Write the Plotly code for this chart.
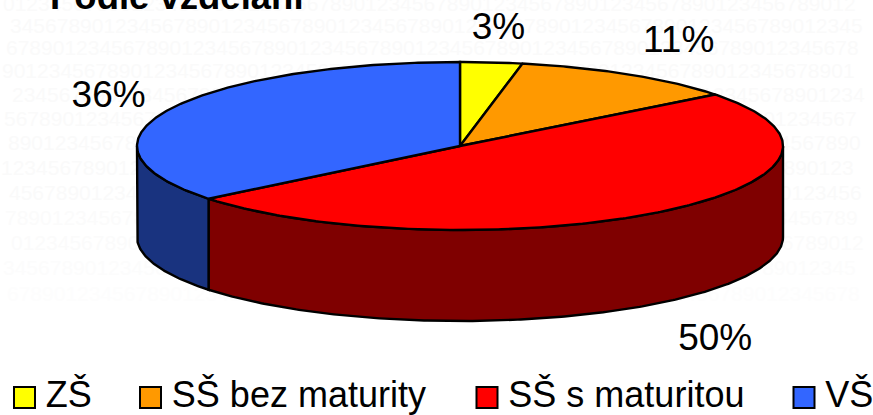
import math
import plotly.graph_objects as go

# ---- data ----
categories = ["ZŠ", "SŠ bez maturity", "SŠ s maturitou", "VŠ"]
values = [3.1, 11.4, 49.7, 35.8]
top_colors = ["#ffff00", "#ff9900", "#ff0000", "#3366ff"]
side_colors = ["#7f7f00", "#7f4c00", "#7f0000", "#19337f"]
title_text = "Podle vzdělání"

# ---- style / layout ----
W, H = 873, 415
CX, CY, RX, RY, DEPTH = 460, 146, 323, 84, 91
FONT = "Liberation Sans, Arial, sans-serif"
label_rx, label_ry = 405, 122
label_nudge = [(-1, 5), (6, 1), (4, 8), (14, 4)]
legend_x = [24.5, 150.5, 487, 804]
legend_y = 397.5
watermark_digits = "0123456789" * 12
watermark_start = [3, 10, 6, 2, 12, 4, 8, 1, 9, 5, 11, 3, 7]
watermark_y = [6, 28, 50, 73, 97, 121, 145, 170, 195, 220, 245, 270, 296]
watermark_col = ["#fafafa"] * 9 + ["#fbfbfb", "#fbfbfb", "#fcfcfc", "#fdfdfd"]


def pt(t, dy=0):
    return CX + RX * math.sin(t), CY - RY * math.cos(t) + dy


def arc(t0, t1, dy=0):
    n = max(2, int(abs(t1 - t0) / 0.01))
    return [pt(t0 + (t1 - t0) * i / n, dy) for i in range(n + 1)]


total = sum(values)
edges = [0]
for v in values:
    edges.append(edges[-1] + v / total * 2 * math.pi)

fig = go.Figure()

# faint background digits
fig.add_trace(go.Scatter(
    x=watermark_start, y=watermark_y,
    text=[watermark_digits[i * 3 % 10:][:73] for i in range(len(watermark_y))],
    mode="text", textposition="middle right",
    textfont=dict(family=FONT, size=21, color=watermark_col),
    hoverinfo="skip", showlegend=False))

# visible side walls, front half of the disc only
for i, name in enumerate(categories):
    a = max(edges[i], math.pi / 2)
    b = min(edges[i + 1], 3 * math.pi / 2)
    if b <= a:
        continue
    outline = arc(a, b) + arc(b, a, DEPTH)
    outline.append(outline[0])
    fig.add_trace(go.Scatter(
        x=[p[0] for p in outline], y=[p[1] for p in outline],
        mode="lines", fill="toself", fillcolor=side_colors[i],
        line=dict(color="black", width=2.4), hoverinfo="skip", showlegend=False))

# top faces
for i, name in enumerate(categories):
    outline = [(CX, CY)] + arc(edges[i], edges[i + 1]) + [(CX, CY)]
    fig.add_trace(go.Scatter(
        x=[p[0] for p in outline], y=[p[1] for p in outline],
        mode="lines", fill="toself", fillcolor=top_colors[i], name=name,
        line=dict(color="black", width=2.4), hoverinfo="name", showlegend=False))

# percent labels
for i, v in enumerate(values):
    mid = (edges[i] + edges[i + 1]) / 2
    dy = DEPTH if math.cos(mid) < 0 else 0
    x = CX + label_rx * math.sin(mid) + label_nudge[i][0]
    y = CY - label_ry * math.cos(mid) + dy + label_nudge[i][1]
    fig.add_trace(go.Scatter(
        x=[x], y=[y], text=[f"{round(v)}%"], mode="text", textposition="middle center",
        textfont=dict(family=FONT, size=37, color="black"),
        hoverinfo="skip", showlegend=False))

# legend row
for i, name in enumerate(categories):
    fig.add_trace(go.Scatter(
        x=[legend_x[i]], y=[legend_y], text=["\u2009" + name], mode="markers+text",
        textposition="middle right",
        marker=dict(symbol="square", size=21, color=top_colors[i],
                    line=dict(color="black", width=2)),
        textfont=dict(family=FONT, size=36, color="black"),
        hoverinfo="skip", showlegend=False, cliponaxis=False))

# title, cut off by the top edge as in the source
fig.add_trace(go.Scatter(
    x=[50], y=[18], text=[f"<b>{title_text}</b>"], mode="text", textposition="top right",
    textfont=dict(family=FONT, size=36.5, color="black"),
    hoverinfo="skip", showlegend=False, cliponaxis=False))

fig.update_layout(
    width=W, height=H, margin=dict(l=0, r=0, t=0, b=0),
    paper_bgcolor="white", plot_bgcolor="white", showlegend=False,
    xaxis=dict(range=[0, W], visible=False, fixedrange=True),
    yaxis=dict(range=[H, 0], visible=False, fixedrange=True))

fig.write_html("out.html", config={"displayModeBar": False},
               post_script="document.body.style.margin='0';document.body.style.overflow='hidden';")
